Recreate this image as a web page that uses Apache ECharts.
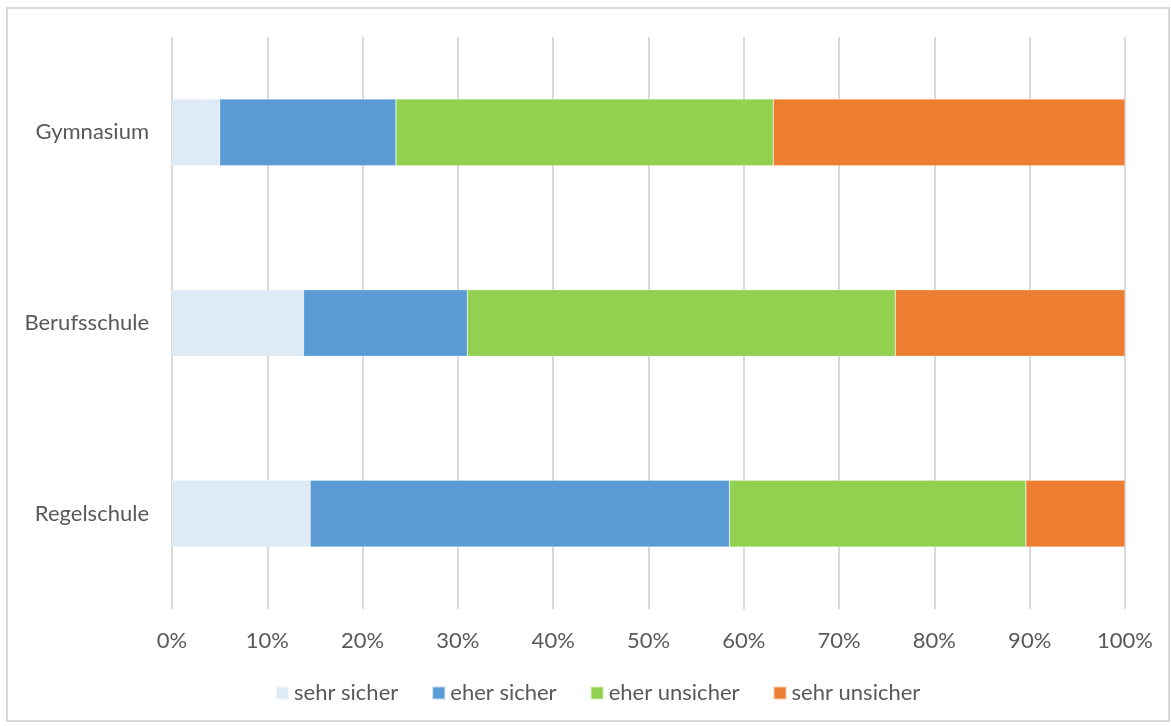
<!DOCTYPE html>
<html>
<head>
<meta charset="utf-8">
<script src="https://cdn.jsdelivr.net/npm/echarts@6/dist/echarts.min.js"></script>
<style>
  html, body { margin: 0; padding: 0; background: #fff; }
  #chart { width: 1171px; height: 726px; }
</style>
</head>
<body>
<div id="chart"></div>
<script>
// School types, top to bottom
const categories = ['Gymnasium', 'Berufsschule', 'Regelschule'];
// Share of answers per school type (percent)
const sehrSicher    = [5.0, 13.8, 14.5];
const eherSicher    = [18.5, 17.2, 44.0];
const eherUnsicher  = [39.6, 44.9, 31.1];
const sehrUnsicher  = [36.9, 24.1, 10.4];
const seriesNames = ['sehr sicher', 'eher sicher', 'eher unsicher', 'sehr unsicher'];
const tickValues = [0, 10, 20, 30, 40, 50, 60, 70, 80, 90, 100];

const colors = ['#DEEAF6', '#5B9BD5', '#92D050', '#ED7D31'];
const values = [sehrSicher, eherSicher, eherUnsicher, sehrUnsicher];
const textColor = '#595959';
const font = 'Lato, "Open Sans", sans-serif';
const fontSize = 22;

const chart = echarts.init(document.getElementById('chart'), null, { renderer: 'canvas' });

chart.setOption({
  animation: false,
  color: colors,
  graphic: [{
    type: 'rect',
    shape: { x: 7, y: 8, width: 1162, height: 713 },
    style: { fill: 'none', stroke: '#d9d9d9', lineWidth: 2 },
    silent: true
  }],
  grid: { left: 172, right: 46, top: 37, bottom: 117, containLabel: false },
  legend: {
    bottom: 17,
    left: 270,
    itemWidth: 13,
    itemHeight: 13,
    itemGap: 33,
    icon: 'rect',
    textStyle: { color: textColor, fontSize: fontSize, fontFamily: font },
    data: seriesNames
  },
  xAxis: {
    type: 'value',
    min: 0,
    max: 100,
    interval: 10,
    axisLine: { show: false },
    axisTick: { show: false },
    splitLine: { show: true, lineStyle: { color: '#d9d9d9', width: 2 } },
    axisLabel: {
      color: textColor,
      fontSize: fontSize,
      fontFamily: font,
      margin: 21,
      formatter: v => (tickValues.includes(v) ? v + '%' : '')
    }
  },
  yAxis: {
    type: 'category',
    data: categories,
    inverse: true,
    axisLine: { show: false },
    axisTick: { show: false },
    axisLabel: { color: textColor, fontSize: fontSize, fontFamily: font, margin: 23 }
  },
  series: seriesNames.map((name, i) => ({
    name,
    type: 'bar',
    stack: 'total',
    barWidth: '35%',
    data: values[i],
    itemStyle: { color: colors[i], borderColor: 'rgba(255,255,255,0.6)', borderWidth: 0.5 }
  }))
});
</script>
</body>
</html>
